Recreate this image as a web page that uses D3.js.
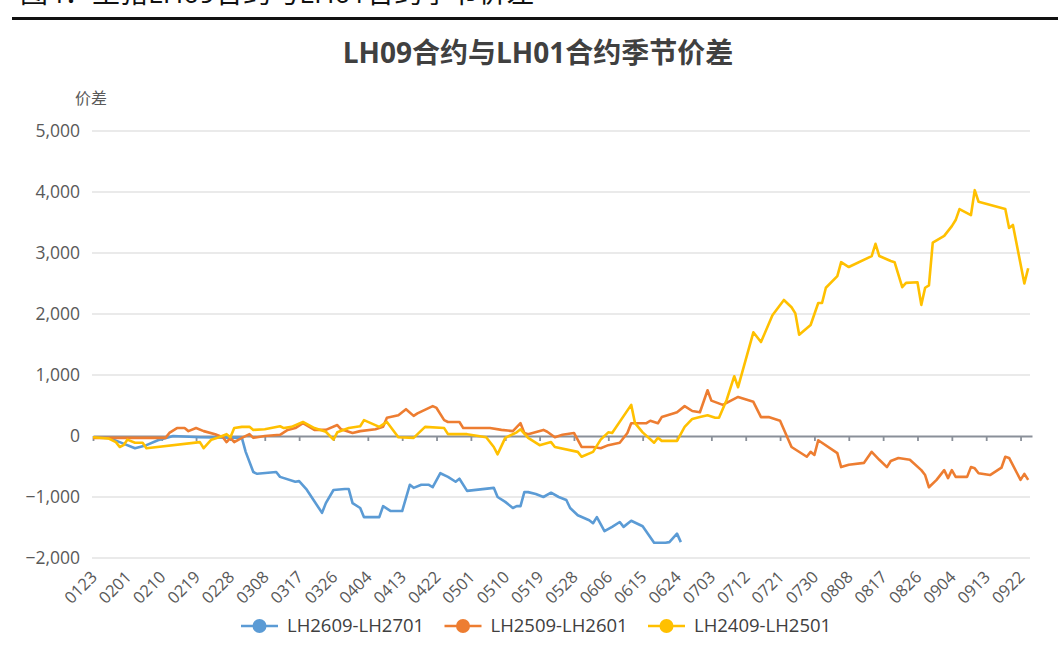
<!DOCTYPE html>
<meta charset="utf-8">
<script src="https://d3js.org/d3.v7.min.js"></script>
<style>
  body { margin: 0; background: #fff; }
  svg { display: block; font-family: "Open Sans", "Noto Sans CJK SC", sans-serif; }
</style>
<svg></svg>
<script>

    // x axis labels (every 9 days) and y ticks
    const tickLabels = ["0123","0201","0210","0219","0228","0308","0317","0326","0404","0413",
        "0422","0501","0510","0519","0528","0606","0615","0624","0703","0712","0721","0730",
        "0808","0817","0826","0904","0913","0922"];
    const yTicks = [-2000, -1000, 0, 1000, 2000, 3000, 4000, 5000];

    const seriesNames = ["LH2609-LH2701", "LH2509-LH2601", "LH2409-LH2501"];
    const seriesColors = ["#5b9bd5", "#ed7d31", "#ffc000"];

    const lh2609 = [["0123",-20],["0127",-30],["0130",-100],["0203",-200],["0206",-150],["0209",-70],
        ["0213",0],["0220",-20],["0302",-30],["0303",-260],["0305",-590],["0306",-620],["0311",-590],
        ["0312",-670],["0316",-750],["0317",-740],["0319",-880],["0323",-1260],["0324",-1100],
        ["0326",-885],["0329",-870],["0330",-870],["0331",-1100],["0402",-1180],["0403",-1330],
        ["0407",-1330],["0408",-1150],["0410",-1230],["0413",-1230],["0415",-800],["0416",-850],
        ["0418",-800],["0420",-800],["0421",-840],["0423",-610],["0425",-670],["0427",-750],
        ["0428",-700],["0430",-900],["0507",-850],["0508",-1000],["0510",-1080],["0512",-1180],
        ["0513",-1150],["0514",-1150],["0515",-920],["0516",-920],["0518",-950],["0520",-1000],
        ["0522",-930],["0524",-1000],["0526",-1050],["0527",-1180],["0529",-1300],["0601",-1380],
        ["0602",-1430],["0603",-1330],["0605",-1560],["0607",-1490],["0609",-1410],["0610",-1490],
        ["0612",-1390],["0615",-1480],["0618",-1750],["0621",-1750],["0622",-1740],["0624",-1600],
        ["0625",-1740]];

    const lh2509 = [["0123",-30],["0130",-30],["0211",-30],["0212",50],["0214",130],["0216",130],
        ["0217",80],["0219",130],["0221",80],["0224",30],["0226",-20],["0227",-100],["0228",-30],
        ["0229",-100],["0302",-30],["0304",30],["0305",-30],["0308",0],["0312",20],["0314",100],
        ["0316",130],["0318",210],["0321",100],["0324",100],["0327",180],["0328",110],["0331",50],
        ["0402",80],["0406",110],["0408",150],["0409",300],["0412",340],["0414",440],["0416",330],
        ["0417",370],["0421",490],["0422",460],["0424",260],["0425",230],["0428",230],["0429",130],
        ["0506",130],["0509",100],["0512",80],["0514",210],["0515",50],["0516",30],["0520",100],
        ["0521",70],["0523",-20],["0525",20],["0528",50],["0530",-180],["0602",-180],["0604",-200],
        ["0606",-150],["0609",-110],["0611",50],["0612",210],["0616",210],["0617",250],["0619",210],
        ["0620",310],["0623",370],["0624",390],["0626",490],["0628",410],["0630",390],["0702",750],
        ["0703",580],["0706",510],["0710",640],["0714",560],["0716",310],["0718",310],["0721",250],
        ["0724",-180],["0728",-340],["0729",-260],["0730",-310],["0731",-70],["0805",-280],
        ["0806",-510],["0808",-470],["0812",-440],["0814",-260],["0816",-390],["0818",-510],
        ["0819",-410],["0821",-360],["0824",-390],["0827",-560],["0828",-640],["0829",-840],
        ["0831",-720],["0902",-560],["0903",-690],["0904",-560],["0905",-670],["0908",-670],
        ["0909",-510],["0910",-530],["0911",-610],["0914",-640],["0917",-520],["0918",-340],
        ["0919",-360],["0922",-720],["0923",-620],["0924",-720]];

    const lh2409 = [["0123",-20],["0127",-40],["0129",-100],["0130",-180],["0131",-150],["0201",-60],
        ["0203",-110],["0205",-110],["0206",-200],["0220",-100],["0221",-200],["0223",-60],
        ["0225",-20],["0227",30],["0228",-20],["0229",130],["0302",150],["0304",150],["0305",100],
        ["0308",110],["0312",160],["0313",130],["0315",150],["0318",230],["0321",130],["0324",70],
        ["0326",-60],["0327",60],["0330",130],["0402",160],["0403",260],["0407",150],["0409",230],
        ["0412",-20],["0416",-30],["0419",150],["0424",130],["0425",30],["0430",30],["0505",-20],
        ["0507",-180],["0508",-300],["0510",-30],["0513",60],["0514",110],["0516",-30],["0519",-150],
        ["0522",-100],["0523",-180],["0529",-260],["0530",-340],["0602",-260],["0604",-60],
        ["0606",60],["0607",50],["0612",510],["0613",210],["0615",60],["0618",-110],["0619",-30],
        ["0620",-80],["0624",-80],["0626",150],["0628",280],["0630",310],["0702",340],["0704",300],
        ["0705",300],["0707",590],["0709",980],["0710",800],["0714",1700],["0716",1540],["0719",1980],
        ["0722",2230],["0724",2110],["0725",2010],["0726",1660],["0729",1820],["0731",2180],
        ["0801",2180],["0802",2430],["0805",2620],["0806",2850],["0808",2770],["0814",2950],
        ["0815",3150],["0816",2950],["0819",2870],["0820",2850],["0822",2440],["0823",2510],
        ["0826",2520],["0827",2150],["0828",2430],["0829",2470],["0830",3170],["0902",3280],
        ["0904",3440],["0905",3540],["0906",3720],["0909",3620],["0910",4030],["0911",3840],
        ["0918",3720],["0919",3410],["0920",3460],["0923",2500],["0924",2750]];

    const series = [lh2609, lh2509, lh2409];

    const parseDay = s => d3.timeParse("%Y%m%d")("2024" + s);

    const svg = d3.select("svg")
        .attr("width", 1058)
        .attr("height", 649);

    // caption (cut by the top edge, as in the source) and rule
    svg.append("text")
        .attr("x", 20)
        .attr("y", 3)
        .attr("font-size", 28)
        .attr("fill", "#111")
        .text("图4：生猪LH09合约与LH01合约季节价差");
    svg.append("rect")
        .attr("x", 12).attr("y", 17)
        .attr("width", 1046).attr("height", 3)
        .attr("fill", "#111");

    svg.append("text")
        .attr("x", 538)
        .attr("y", 63)
        .attr("text-anchor", "middle")
        .attr("font-size", 28)
        .attr("font-weight", "bold")
        .attr("fill", "#404040")
        .text("LH09合约与LH01合约季节价差");

    const x = d3.scaleTime()
        .domain([parseDay("0123"), parseDay("0925")])
        .range([93, 1032]);
    const y = d3.scaleLinear()
        .domain([-2000, 5000])
        .range([558, 131]);

    // gridlines + y labels
    svg.append("g").selectAll("line")
        .data(yTicks.filter(d => d !== 0))
        .join("line")
        .attr("x1", 92).attr("x2", 1030)
        .attr("y1", d => y(d)).attr("y2", d => y(d))
        .attr("stroke", "#e3e3e3")
        .attr("stroke-width", 1.3);

    svg.append("g").selectAll("text")
        .data(yTicks)
        .join("text")
        .attr("x", 80)
        .attr("y", d => y(d))
        .attr("dy", "0.35em")
        .attr("text-anchor", "end")
        .attr("font-size", 17.5)
        .attr("fill", "#595959")
        .text(d => d3.format(",")(d));

    svg.append("text")
        .attr("x", 91)
        .attr("y", 98)
        .attr("dy", "0.35em")
        .attr("text-anchor", "middle")
        .attr("font-size", 16)
        .attr("fill", "#595959")
        .text("价差");

    // zero axis with tick marks
    const xAxis = svg.append("g")
        .attr("transform", `translate(0, ${y(0)})`)
        .call(d3.axisBottom(x)
            .tickValues(tickLabels.map(parseDay))
            .tickSize(5)
            .tickSizeOuter(0)
            .tickFormat(""));
    xAxis.selectAll("path, line")
        .attr("stroke", "#8a9099")
        .attr("stroke-width", 1.8);

    svg.append("g").selectAll("text")
        .data(tickLabels)
        .join("text")
        .attr("text-anchor", "end")
        .attr("dy", "0.35em")
        .attr("font-size", 16.5)
        .attr("fill", "#595959")
        .attr("transform", d => `translate(${x(parseDay(d)) + 1}, 574) rotate(-45)`)
        .text(d => d);

    // series lines
    const line = d3.line()
        .x(d => x(parseDay(d[0])))
        .y(d => y(d[1]));

    svg.append("g").selectAll("path")
        .data(series)
        .join("path")
        .attr("d", line)
        .attr("fill", "none")
        .attr("stroke", (d, i) => seriesColors[i])
        .attr("stroke-width", 2.6)
        .attr("stroke-linejoin", "round");

    // legend
    const legend = svg.append("g").selectAll("g")
        .data(seriesNames)
        .join("g")
        .attr("transform", (d, i) => `translate(${241 + i * 203.5}, 626)`);
    legend.append("line")
        .attr("x1", 0).attr("x2", 37)
        .attr("stroke", (d, i) => seriesColors[i])
        .attr("stroke-width", 2.6);
    legend.append("circle")
        .attr("cx", 18.5)
        .attr("r", 7)
        .attr("fill", (d, i) => seriesColors[i]);
    legend.append("text")
        .attr("x", 46)
        .attr("dy", "0.35em")
        .attr("font-size", 18.5)
        .attr("fill", "#404040")
        .text(d => d);
</script>
